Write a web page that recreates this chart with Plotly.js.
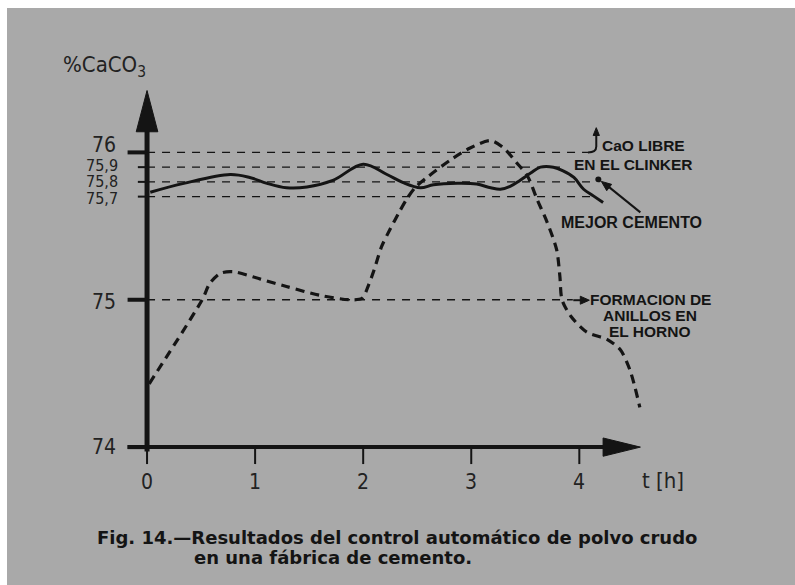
<!DOCTYPE html>
<html>
<head>
<meta charset="utf-8">
<script src="https://cdn.plot.ly/plotly-3.0.1.min.js"></script>
<style>
  html, body { margin: 0; padding: 0; background: #ffffff; width: 795px; height: 585px; overflow: hidden; }
  #chart { position: absolute; left: 7px; top: 8px; width: 788px; height: 577px; }
</style>
</head>
<body>
<div id="chart"></div>
<script>
// ---------- data ----------
const solidX = [0.03, 0.34, 0.77, 0.95, 1.11, 1.29, 1.48, 1.72, 2.0, 2.22, 2.37, 2.53, 2.65, 2.87, 3.05, 3.18, 3.27, 3.36, 3.45, 3.55, 3.64, 3.76, 3.85, 3.95, 4.04, 4.13, 4.22];
const solidY = [75.73, 75.79, 75.85, 75.83, 75.79, 75.76, 75.765, 75.81, 75.92, 75.85, 75.795, 75.76, 75.78, 75.79, 75.785, 75.76, 75.75, 75.77, 75.81, 75.86, 75.90, 75.90, 75.875, 75.83, 75.75, 75.705, 75.66];

const dashX = [0.02, 0.51, 0.58, 0.68, 0.80, 1.05, 1.29, 1.60, 1.88, 1.99, 2.05, 2.10, 2.17, 2.25, 2.33, 2.40, 2.48, 2.59, 2.81, 2.99, 3.18, 3.30, 3.42, 3.52, 3.61, 3.70, 3.79, 3.82, 3.84, 3.92, 4.07, 4.26, 4.38, 4.47, 4.56];
const dashY = [74.43, 75.0, 75.11, 75.18, 75.19, 75.14, 75.09, 75.03, 75.0, 75.01, 75.10, 75.20, 75.36, 75.48, 75.59, 75.68, 75.76, 75.83, 75.95, 76.03, 76.08, 76.03, 75.93, 75.84, 75.68, 75.53, 75.34, 75.16, 75.0, 74.89, 74.78, 74.73, 74.66, 74.52, 74.27];

const refLevels = [76, 75.9, 75.8, 75.7, 75];

const xTickVals = [0, 1, 2, 3, 4];
const xTickText = ['0', '1', '2', '3', '4'];
const yTickVals = [76, 75.9, 75.8, 75.7, 75, 74];
const yTickText = ['76', '75,9', '75,8', '75,7', '75', '74'];

const yAxisTitle = '%CaCO<sub>3</sub>';
const xAxisTitle = 't [h]';
const noteCaO = ['CaO LIBRE', 'EN EL CLINKER'];
const noteMejor = 'MEJOR CEMENTO';
const noteAnillos = ['FORMACION DE', 'ANILLOS EN', 'EL HORNO'];
const caption = ['Fig. 14.—Resultados del control automático de polvo crudo', 'en una fábrica de cemento.'];

// ---------- styles / positions ----------
const INK = '#141414';
const BG = '#a9a9a9';
const thinFont = 'DejaVu Sans Condensed, Liberation Sans Narrow, sans-serif';
const boldFont = 'Liberation Sans, Arial, sans-serif';
const capFont = 'DejaVu Sans, Verdana, sans-serif';

const refEnds = [4.08, 3.88, 4.16, 4.10, 3.94];
const yTickShift = [7, 2, 0, -2, -2, 0];
const yTickSize = [21, 16, 16, 16, 21, 21];
const yTickRight = [-0.27, -0.25, -0.25, -0.25, -0.27, -0.27];
const yTickLen = [-0.18, -0.085, -0.085, -0.085, -0.18, -0.18];
const yTickW = [4, 2, 2, 2, 4, 4];

const traces = [
  {
    x: dashX, y: dashY, type: 'scatter', mode: 'lines',
    line: { color: INK, width: 3.2, dash: '9px,6px', shape: 'spline', smoothing: 0.8 },
    hoverinfo: 'skip', cliponaxis: false
  },
  {
    x: solidX, y: solidY, type: 'scatter', mode: 'lines',
    line: { color: INK, width: 3, shape: 'spline', smoothing: 1 },
    hoverinfo: 'skip', cliponaxis: false
  }
];

const shapes = [];
refLevels.forEach((lv, i) => {
  shapes.push({ type: 'line', xref: 'x', yref: 'y', x0: 0, x1: refEnds[i], y0: lv, y1: lv,
    line: { color: INK, width: 1.4, dash: '8px,7px' } });
});
// axes
shapes.push({ type: 'line', xref: 'x', yref: 'y', x0: 0, x1: 0, y0: 73.97, y1: 76.16, line: { color: INK, width: 5 } });
shapes.push({ type: 'line', xref: 'x', yref: 'y', x0: -0.18, x1: 4.25, y0: 74, y1: 74, line: { color: INK, width: 4 } });
shapes.push({ type: 'path', xref: 'x', yref: 'y', path: 'M 0,76.42 L -0.1,76.14 L 0.1,76.14 Z', fillcolor: INK, line: { color: INK, width: 1 } });
shapes.push({ type: 'path', xref: 'x', yref: 'y', path: 'M 4.565,74 L 4.22,74.062 L 4.22,73.938 Z', fillcolor: INK, line: { color: INK, width: 1 } });
// y ticks
yTickVals.forEach((v, i) => {
  shapes.push({ type: 'line', xref: 'x', yref: 'y', x0: yTickLen[i], x1: 0, y0: v, y1: v, line: { color: INK, width: yTickW[i] } });
});
// x ticks
xTickVals.forEach(v => {
  shapes.push({ type: 'line', xref: 'x', yref: 'y', x0: v, x1: v, y0: 74, y1: 73.885, line: { color: INK, width: 2 } });
});
// CaO arrow (J hook + head)
shapes.push({ type: 'path', xref: 'x', yref: 'y', path: 'M 4.08,76 Q 4.157,76 4.157,76.04 L 4.157,76.12', line: { color: INK, width: 2 } });
shapes.push({ type: 'path', xref: 'x', yref: 'y', path: 'M 4.157,76.168 L 4.128,76.115 L 4.186,76.115 Z', fillcolor: INK, line: { color: INK, width: 1 } });
// MEJOR CEMENTO arrow
shapes.push({ type: 'line', xref: 'x', yref: 'y', x0: 4.5648, y0: 75.5932, x1: 4.27, y1: 75.768, line: { color: INK, width: 2 } });
shapes.push({ type: 'path', xref: 'x', yref: 'y', path: 'M 4.2037,75.8034 L 4.2991,75.7831 L 4.2537,75.7403 Z', fillcolor: INK, line: { color: INK, width: 1 } });
shapes.push({ type: 'circle', xref: 'x', yref: 'y', x0: 4.148, x1: 4.204, y0: 75.797, y1: 75.837, fillcolor: INK, line: { color: INK, width: 0 } });
// FORMACION arrow
shapes.push({ type: 'line', xref: 'x', yref: 'y', x0: 3.944, y0: 74.997, x1: 4.02, y1: 74.997, line: { color: INK, width: 2 } });
shapes.push({ type: 'path', xref: 'x', yref: 'y', path: 'M 4.0926,74.997 L 4.009,75.024 L 4.009,74.970 Z', fillcolor: INK, line: { color: INK, width: 1 } });

const annotations = [];
yTickVals.forEach((v, i) => {
  annotations.push({ x: yTickRight[i], y: v, xref: 'x', yref: 'y', text: yTickText[i], showarrow: false,
    xanchor: 'right', yanchor: 'middle', yshift: yTickShift[i],
    font: { family: thinFont, size: yTickSize[i], color: '#222222' } });
});
xTickVals.forEach((v, i) => {
  annotations.push({ x: v, y: 73.763, xref: 'x', yref: 'y', text: xTickText[i], showarrow: false,
    xanchor: 'center', yanchor: 'middle', font: { family: thinFont, size: 21, color: '#222222' } });
});
annotations.push({ x: -0.39, y: 76.58, xref: 'x', yref: 'y', text: yAxisTitle, showarrow: false,
  xanchor: 'center', yanchor: 'middle', font: { family: thinFont, size: 22, color: '#222222' } });
annotations.push({ x: 4.778, y: 73.776, xref: 'x', yref: 'y', text: xAxisTitle, showarrow: false,
  xanchor: 'center', yanchor: 'middle', font: { family: thinFont, size: 22, color: '#222222' } });

annotations.push({ x: 4.194, y: 76.047, xref: 'x', yref: 'y', text: noteCaO[0], showarrow: false,
  xanchor: 'left', yanchor: 'middle', font: { family: boldFont, size: 15.5, color: INK, weight: 'bold' } });
annotations.push({ x: 3.935, y: 75.919, xref: 'x', yref: 'y', text: noteCaO[1], showarrow: false,
  xanchor: 'left', yanchor: 'middle', font: { family: boldFont, size: 15.5, color: INK, weight: 'bold' } });
annotations.push({ x: 4.48, y: 75.525, xref: 'x', yref: 'y', text: noteMejor, showarrow: false,
  xanchor: 'center', yanchor: 'middle', font: { family: boldFont, size: 16, color: INK, weight: 'bold' } });
const anY = [75.003, 74.895, 74.786];
noteAnillos.forEach((t, i) => {
  annotations.push({ x: 4.657, y: anY[i], xref: 'x', yref: 'y', text: t, showarrow: false,
    xanchor: 'center', yanchor: 'middle', font: { family: boldFont, size: 15.5, color: INK, weight: 'bold' } });
});
annotations.push({ x: -0.481, y: 73.39, xref: 'x', yref: 'y', text: caption[0], showarrow: false,
  xanchor: 'left', yanchor: 'middle', font: { family: capFont, size: 18, color: INK, weight: 'bold' } });
annotations.push({ x: 0.417, y: 73.254, xref: 'x', yref: 'y', text: caption[1], showarrow: false,
  xanchor: 'left', yanchor: 'middle', font: { family: capFont, size: 18, color: INK, weight: 'bold' } });

const layout = {
  width: 788, height: 577,
  margin: { l: 86, r: 86.4, t: 55.5, b: 20 },
  paper_bgcolor: BG, plot_bgcolor: BG,
  showlegend: false,
  xaxis: { range: [-0.5, 5.2], visible: false, fixedrange: true },
  yaxis: { range: [73.2, 76.6], visible: false, fixedrange: true },
  shapes: shapes,
  annotations: annotations
};

Plotly.newPlot('chart', traces, layout, { displayModeBar: false, staticPlot: true });
</script>
</body>
</html>
